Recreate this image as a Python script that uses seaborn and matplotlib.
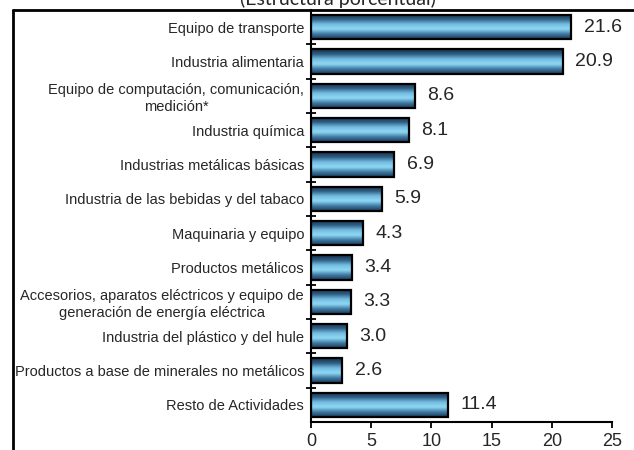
import numpy as np
import pandas as pd
import matplotlib
matplotlib.use('Agg')
import matplotlib.pyplot as plt
import seaborn as sns
from matplotlib.colors import LinearSegmentedColormap
from matplotlib.lines import Line2D

# Data
categorias = [
    'Equipo de transporte',
    'Industria alimentaria',
    'Equipo de computación, comunicación,\nmedición*',
    'Industria química',
    'Industrias metálicas básicas',
    'Industria de las bebidas y del tabaco',
    'Maquinaria y equipo',
    'Productos metálicos',
    'Accesorios, aparatos eléctricos y equipo de\ngeneración de energía eléctrica',
    'Industria del plástico y del hule',
    'Productos a base de minerales no metálicos',
    'Resto de Actividades',
]
valores = [21.6, 20.9, 8.6, 8.1, 6.9, 5.9, 4.3, 3.4, 3.3, 3.0, 2.6, 11.4]
xticks = [0, 5, 10, 15, 20, 25]

df = pd.DataFrame({'cat': categorias, 'val': valores})

sns.set_style('white')
plt.rcParams['font.family'] = ['Liberation Sans', 'DejaVu Sans']

fig = plt.figure(figsize=(6.34, 4.5), dpi=100)
ax = fig.add_axes([311 / 634, 1 - 422 / 450, (612 - 311) / 634, (422 - 10) / 450])

sns.barplot(data=df, x='val', y='cat', orient='h', width=0.7,
            color='#5fa8d0', edgecolor='black', linewidth=1.6, ax=ax, zorder=3)

# cylinder-like gradient on every bar
cmap = LinearSegmentedColormap.from_list(
    'cyl', ['#1d3a58', '#3f7aa3', '#8fd8f4', '#74bde2', '#2f5f85', '#15304a'])
grad = np.linspace(0, 1, 64).reshape(-1, 1)
for p in ax.patches:
    x0, y0 = p.get_x(), p.get_y()
    w, h = p.get_width(), p.get_height()
    ax.imshow(grad, cmap=cmap, aspect='auto', interpolation='bicubic',
              extent=[x0, x0 + w, y0, y0 + h], origin='upper', zorder=2)
    p.set_facecolor('none')

ax.bar_label(ax.containers[0], labels=[f'{v:.1f}' for v in valores],
             padding=9, fontsize=14)

ax.set_xlim(0, 25)
ax.set_ylim(11.5, -0.5)
ax.set_xticks(xticks)
ax.set_xlabel('')
ax.set_ylabel('')

for s in ['top', 'right']:
    ax.spines[s].set_visible(False)
for s in ['left', 'bottom']:
    ax.spines[s].set_color('black')
    ax.spines[s].set_linewidth(1.5)

ax.tick_params(left=True, bottom=True, which='both')
ax.tick_params(axis='y', which='major', length=0, pad=5, labelsize=10.5)
ax.set_yticks(np.arange(0.5, 11.5, 1), minor=True)
ax.tick_params(axis='y', which='minor', direction='inout', length=7, width=1.3, color='black')
ax.tick_params(axis='x', which='major', direction='out', length=4, width=1.3,
               color='black', labelsize=13, pad=4)
for t in ax.get_yticklabels():
    t.set_multialignment('center')

# outer frame of the original chart area
fig.add_artist(Line2D([13 / 634, 13 / 634], [0, 1 - 10 / 450],
                      transform=fig.transFigure, color='black', lw=2))
fig.add_artist(Line2D([13 / 634, 1], [1 - 10 / 450, 1 - 10 / 450],
                      transform=fig.transFigure, color='black', lw=2))

fig.text(338 / 634, 1 - 5 / 450, '(Estructura porcentual)', ha='center', va='baseline',
         fontsize=14, family=['Lato', 'DejaVu Sans'])

fig.savefig('out.png', dpi=100)
